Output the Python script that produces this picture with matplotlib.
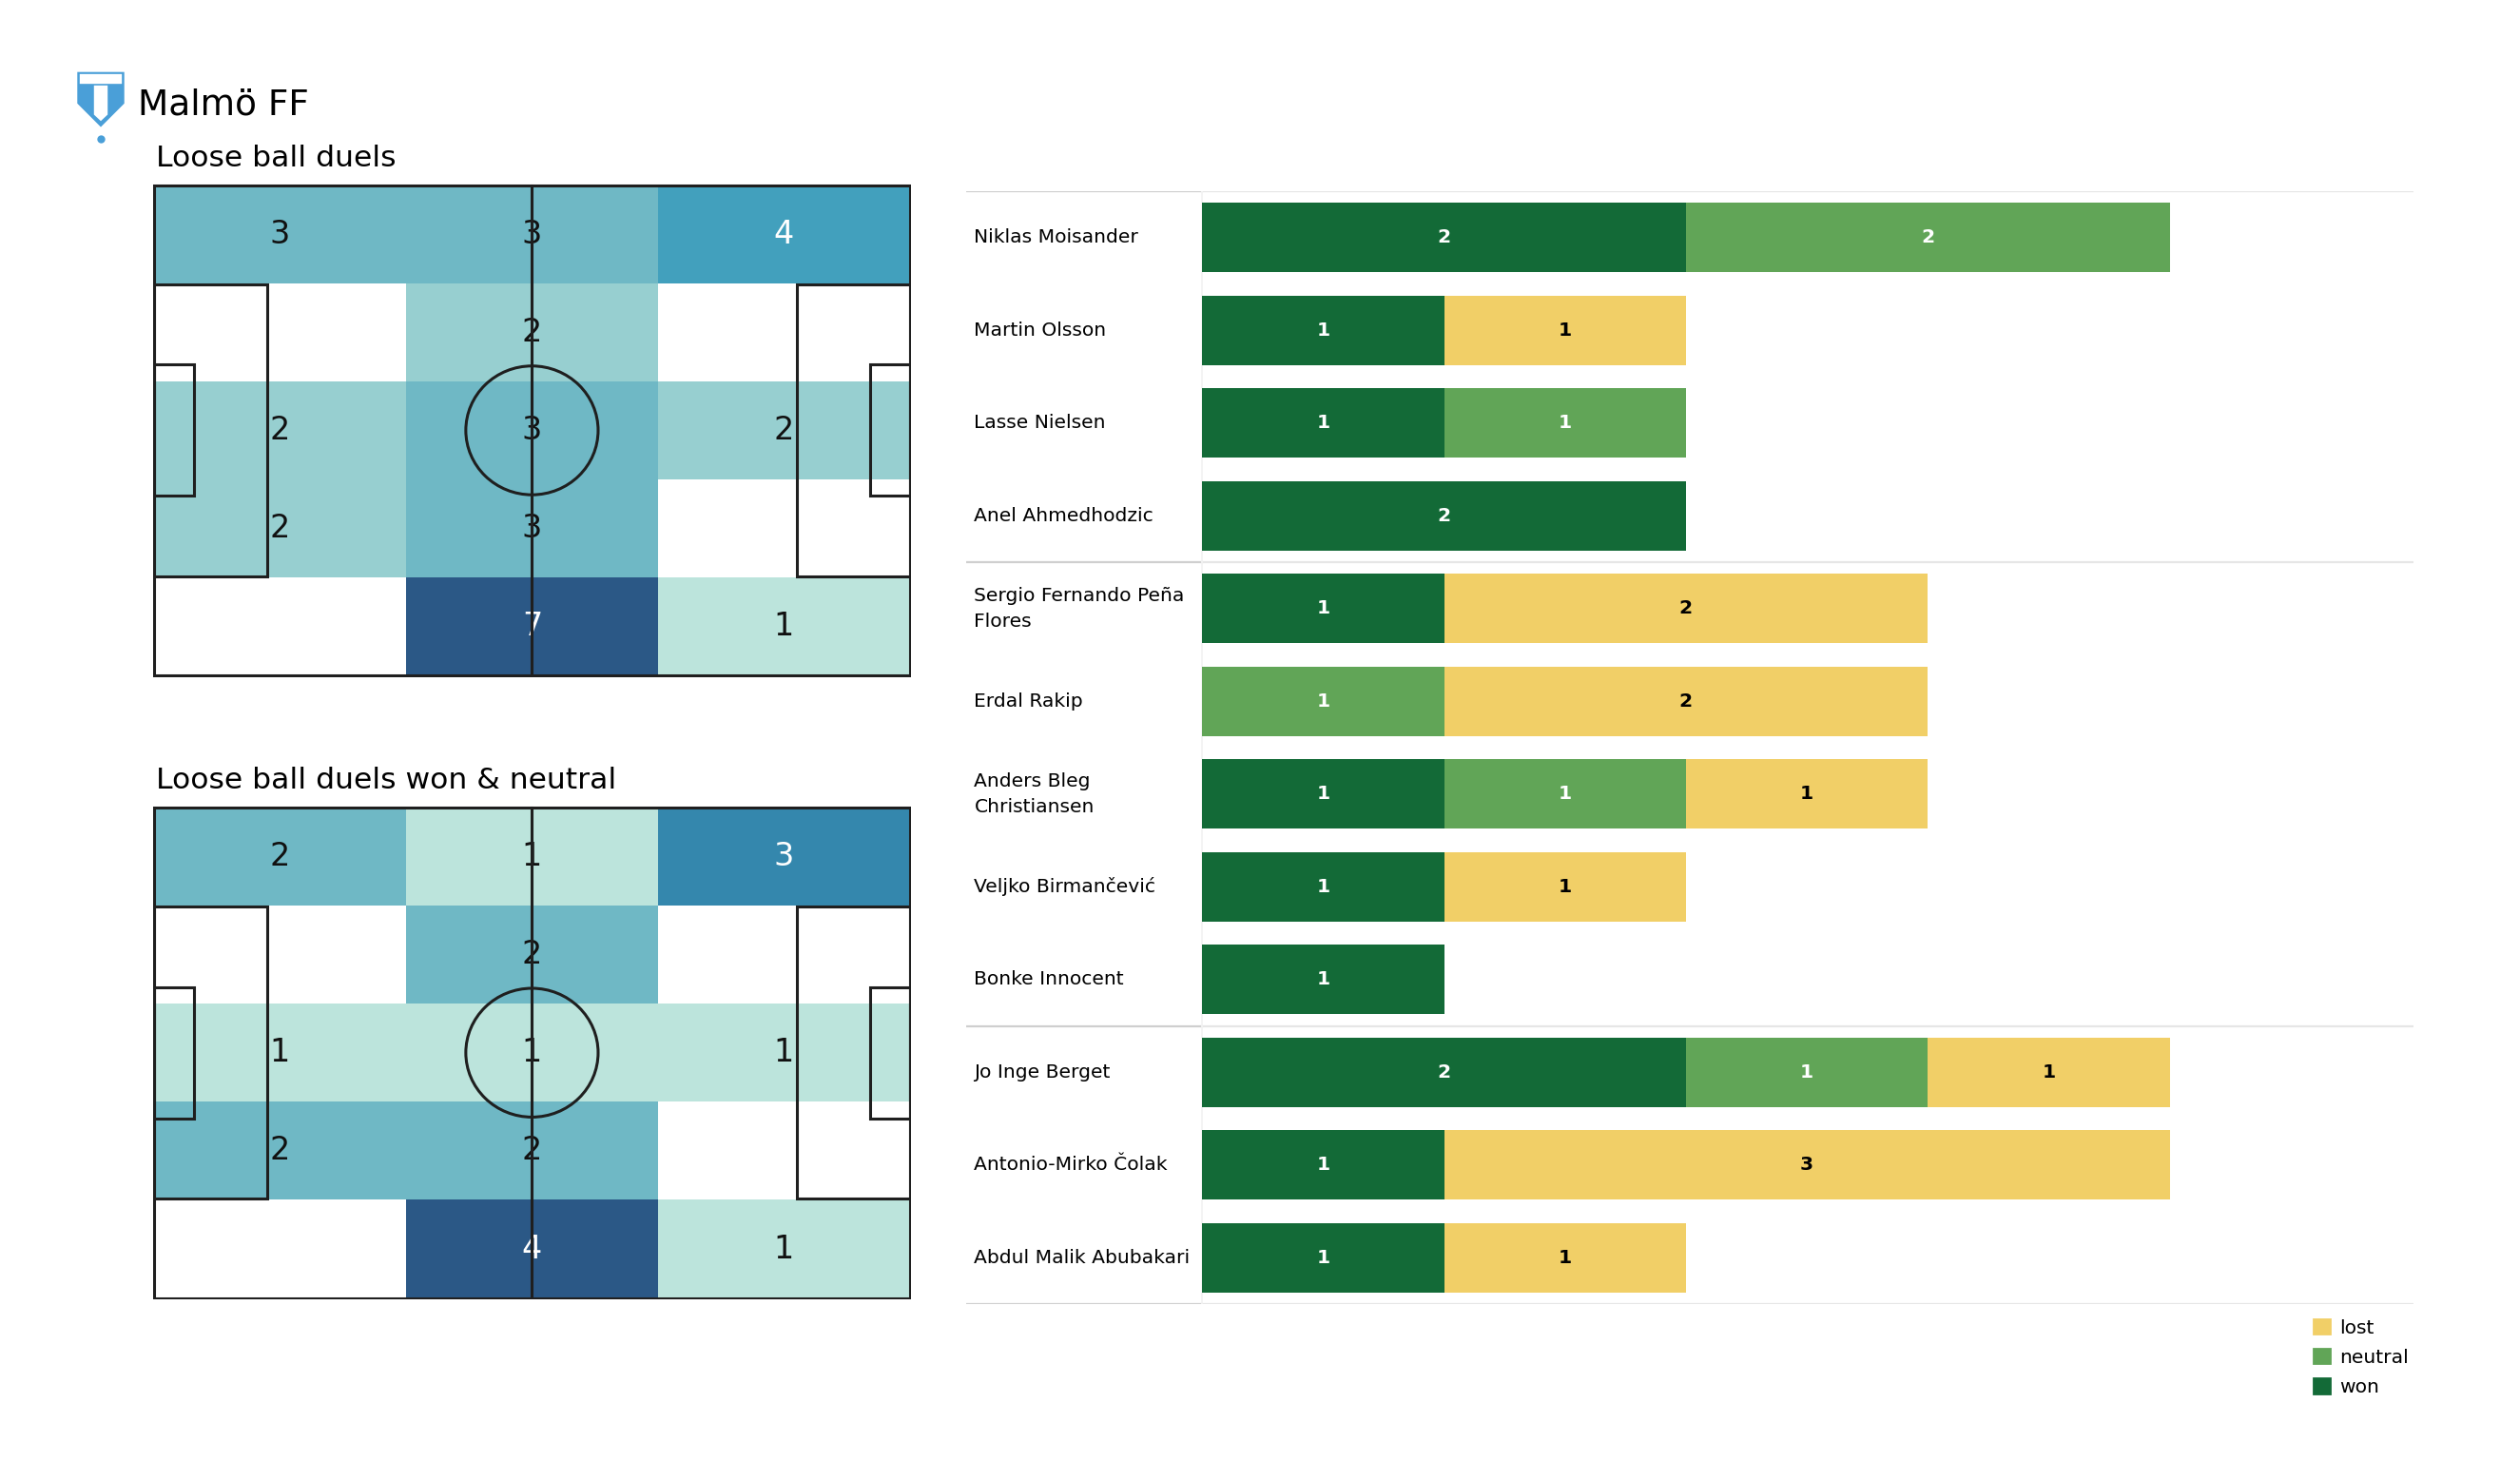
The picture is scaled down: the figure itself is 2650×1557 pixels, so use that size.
import numpy as np
import matplotlib.pyplot as plt
from matplotlib.colors import ListedColormap, BoundaryNorm
from matplotlib.patches import Rectangle, Circle, Polygon, Patch

# heatmap grids (rows top -> bottom, cols left -> right)
duels = np.array([[3, 3, 4],
                  [0, 2, 0],
                  [2, 3, 2],
                  [2, 3, 0],
                  [0, 7, 1]])
duels_won_neutral = np.array([[2, 1, 3],
                              [0, 2, 0],
                              [1, 1, 1],
                              [2, 2, 0],
                              [0, 4, 1]])

players = ["Niklas Moisander", "Martin Olsson", "Lasse Nielsen", "Anel Ahmedhodzic",
           "Sergio Fernando Peña\nFlores", "Erdal Rakip", "Anders Bleg\nChristiansen",
           "Veljko Birmančević", "Bonke Innocent", "Jo Inge Berget",
           "Antonio-Mirko Čolak", "Abdul Malik Abubakari"]
won = [2, 1, 1, 2, 1, 0, 1, 1, 1, 2, 1, 1]
neutral = [2, 0, 1, 0, 0, 1, 1, 0, 0, 1, 0, 0]
lost = [0, 1, 0, 0, 2, 2, 1, 1, 0, 1, 3, 1]
group_breaks = [3.5, 8.5]

c_won, c_neutral, c_lost = "#136a37", "#61a557", "#f1cf67"

cmap = ListedColormap(["#bce4dc", "#97cfd0", "#6fb8c5", "#42a0bd", "#3487ad", "#2b5886"])
norm = BoundaryNorm([0, 0.27, 0.4, 0.53, 0.65, 0.85, 1.01], cmap.N)

fig = plt.figure(figsize=(13.25, 7.785), dpi=200)


def draw_pitch(ax, grid):
    xe = np.linspace(0, 120, grid.shape[1] + 1)
    ye = np.linspace(0, 80, grid.shape[0] + 1)
    frac = grid / grid.max()
    ax.pcolormesh(xe, ye, np.ma.masked_equal(frac, 0), cmap=cmap, norm=norm, zorder=1)
    lc = "#1f1f1f"
    lw = 1.1
    ax.add_patch(Rectangle((0, 0), 120, 80, fill=False, ec=lc, lw=lw, zorder=3))
    ax.plot([60, 60], [0, 80], color=lc, lw=lw, zorder=3)
    ax.add_patch(Circle((60, 40), 10.5, fill=False, ec=lc, lw=lw, zorder=3))
    ax.add_patch(Rectangle((0, 16.2), 18, 47.6, fill=False, ec=lc, lw=lw, zorder=3))
    ax.add_patch(Rectangle((102, 16.2), 18, 47.6, fill=False, ec=lc, lw=lw, zorder=3))
    ax.add_patch(Rectangle((0, 29.3), 6.4, 21.4, fill=False, ec=lc, lw=lw, zorder=3))
    ax.add_patch(Rectangle((113.6, 29.3), 6.4, 21.4, fill=False, ec=lc, lw=lw, zorder=3))
    for r in range(grid.shape[0]):
        for c in range(grid.shape[1]):
            v = grid[r, c]
            if v == 0:
                continue
            col = "white" if frac[r, c] > 0.5 else "#111111"
            ax.text((xe[c] + xe[c + 1]) / 2, (ye[r] + ye[r + 1]) / 2, str(v),
                    ha="center", va="center", fontsize=12, color=col, zorder=2)
    ax.set_xlim(-0.2, 120.2)
    ax.set_ylim(80.2, -0.2)
    ax.axis("off")


ax1 = fig.add_axes([0.0606, 0.5429, 0.301, 0.333])
draw_pitch(ax1, duels)
ax2 = fig.add_axes([0.0606, 0.1227, 0.301, 0.333])
draw_pitch(ax2, duels_won_neutral)

fig.text(0.0619, 0.893, "Loose ball duels", fontsize=11.3, va="center")
fig.text(0.0619, 0.473, "Loose ball duels won & neutral", fontsize=11.3, va="center")
fig.text(0.0548, 0.929, "Malmö FF", fontsize=13.5, va="center")

# simple club crest
lax = fig.add_axes([0.029, 0.903, 0.022, 0.05])
lax.add_patch(Polygon([[0.1, 0.95], [0.9, 0.95], [0.9, 0.55], [0.5, 0.25], [0.1, 0.55]],
                      closed=True, fc="#4a9fd8", ec="#4a9fd8"))
lax.add_patch(Polygon([[0.4, 0.8], [0.6, 0.8], [0.6, 0.4], [0.5, 0.33], [0.4, 0.4]],
                      closed=True, fc="white", ec="white"))
lax.add_patch(Rectangle((0.1, 0.8), 0.8, 0.15, fc="white", ec="#4a9fd8", lw=0.6))
lax.plot([0.5], [0.06], "o", color="#4a9fd8", ms=2)
lax.set_xlim(0, 1)
lax.set_ylim(0, 1)
lax.axis("off")

# stacked bars
bx = fig.add_axes([0.3833, 0.1194, 0.5746, 0.7514])
y = np.arange(len(players))
won_a = np.array(won)
neu_a = np.array(neutral)
lost_a = np.array(lost)
h = 0.75
bx.barh(y, won_a, height=h, color=c_won, label="won")
bx.barh(y, neu_a, left=won_a, height=h, color=c_neutral, label="neutral")
bx.barh(y, lost_a, left=won_a + neu_a, height=h, color=c_lost, label="lost")
for i in y:
    for start, val, tc in [(0, won_a[i], "white"), (won_a[i], neu_a[i], "white"),
                           (won_a[i] + neu_a[i], lost_a[i], "black")]:
        if val > 0:
            bx.text(start + val / 2, i, str(val), ha="center", va="center",
                    fontsize=7.3, fontweight="bold", color=tc)
    bx.text(-0.943, i, players[i], ha="left", va="center", fontsize=7.3, linespacing=1.5)

xl = (-0.977, 5.01)
for yy in [-0.5] + group_breaks + [len(players) - 0.5]:
    bx.plot([xl[0], 0], [yy, yy], color="#cfcfcf", lw=0.8, zorder=0)
    bx.plot([0, xl[1]], [yy, yy], color="#e6e6e6", lw=0.8, zorder=0)
bx.axvline(0, color="#f2f2f2", lw=0.6, zorder=0)
bx.set_xlim(*xl)
bx.set_ylim(len(players) - 0.5, -0.5)
bx.axis("off")

handles = [Patch(color=c_lost, label="lost"), Patch(color=c_neutral, label="neutral"),
           Patch(color=c_won, label="won")]
fig.legend(handles=handles, loc="upper right", bbox_to_anchor=(0.9595, 0.116), frameon=False,
           fontsize=7.3, handlelength=0.8, handleheight=0.8, handletextpad=0.5,
           labelspacing=0.6, borderpad=0)

fig.savefig("out.png", dpi=200, facecolor="white")
